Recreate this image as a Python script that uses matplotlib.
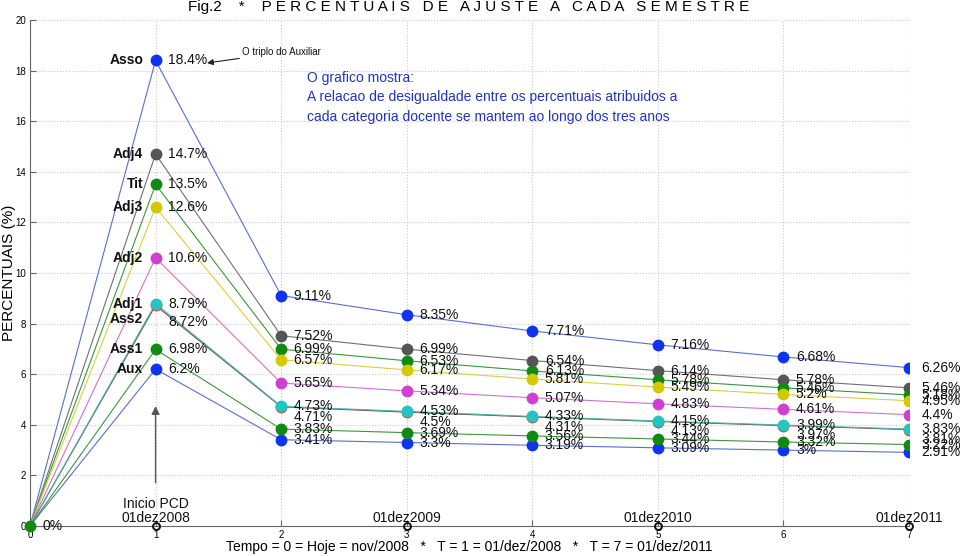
import matplotlib
matplotlib.use("Agg")
import matplotlib.pyplot as plt

plt.rcParams['font.family'] = ['Liberation Sans', 'DejaVu Sans']

times = [0, 1, 2, 3, 4, 5, 6, 7]
names = ["Asso", "Adj4", "Tit", "Adj3", "Adj2", "Ass2", "Adj1", "Aux", "Ass1"]
values = {
    "Asso": [0, 18.4, 9.11, 8.35, 7.71, 7.16, 6.68, 6.26],
    "Adj4": [0, 14.7, 7.52, 6.99, 6.54, 6.14, 5.78, 5.46],
    "Tit":  [0, 13.5, 6.99, 6.53, 6.13, 5.78, 5.46, 5.18],
    "Adj3": [0, 12.6, 6.57, 6.17, 5.81, 5.49, 5.2, 4.95],
    "Adj2": [0, 10.6, 5.65, 5.34, 5.07, 4.83, 4.61, 4.4],
    "Ass2": [0, 8.72, 4.71, 4.5, 4.31, 4.13, 3.97, 3.81],
    "Adj1": [0, 8.79, 4.73, 4.53, 4.33, 4.15, 3.99, 3.83],
    "Aux":  [0, 6.2, 3.41, 3.3, 3.19, 3.09, 3.0, 2.91],
    "Ass1": [0, 6.98, 3.83, 3.69, 3.56, 3.44, 3.32, 3.22],
}
marker_colors = {
    "Asso": "#1033f0", "Adj4": "#555555", "Tit": "#108a10", "Adj3": "#d4c800",
    "Adj2": "#d040d0", "Ass2": "#d04a20", "Adj1": "#22c4c4", "Aux": "#1033f0",
    "Ass1": "#108a10",
}
line_colors = {
    "Asso": "#5a6ed0", "Adj4": "#707070", "Tit": "#3c963c", "Adj3": "#d8d040",
    "Adj2": "#d070d0", "Ass2": "#6a5048", "Adj1": "#50b0b0", "Aux": "#5a6ed0",
    "Ass1": "#3c963c",
}
date_ticks = [1, 3, 5, 7]
date_labels = ["Inicio PCD\n01dez2008", "01dez2009", "01dez2010", "01dez2011"]

fig = plt.figure(figsize=(9.6, 5.56), dpi=100)
ax = fig.add_axes([30/960, 30/556, 879/960, 506/556])
ax.set_xlim(0, 7)
ax.set_ylim(0, 20)

for n in names:
    ax.plot(times, values[n], color=line_colors[n], lw=0.8, zorder=2)
for n in names:
    ax.plot(times[1:], values[n][1:], 'o', color=marker_colors[n], ms=7.5,
            mec=marker_colors[n], zorder=3)

FS = 10
# value labels
for n in names:
    for t, v in zip(times[1:], values[n][1:]):
        dy = 0
        if n == "Ass2":
            dy = -12 if t == 1 else -7
        ax.annotate(f"{v:g}%", (t, v), xytext=(9, dy), textcoords='offset points',
                    ha='left', va='center', fontsize=FS, color='#111111', zorder=4,
                    annotation_clip=False)
    dy = -10 if n == "Ass2" else 0
    ax.annotate(n, (1, values[n][1]), xytext=(-9, dy), textcoords='offset points',
                ha='right', va='center', fontsize=FS, fontweight='bold',
                color='#111111', zorder=4)

# origin point
ax.plot([0], [0], 'o', color=marker_colors["Ass1"], ms=7.5, zorder=5, clip_on=False)
ax.annotate("0%", (0, 0), xytext=(9, 0), textcoords='offset points', ha='left',
            va='center', fontsize=FS, color='#111111')

# date markers
ax.plot(date_ticks, [0]*len(date_ticks), 'o', mfc='none', mec='#111111', ms=5,
        mew=1.4, zorder=5, clip_on=False)
for t, lab in zip(date_ticks, date_labels):
    ax.annotate(lab, (t, 0), xytext=(0, 1), textcoords='offset points', ha='center',
                va='bottom', fontsize=FS, color='#111111', linespacing=1.0)

# arrow at Inicio PCD
ax.annotate("", xy=(1, 4.85), xytext=(1, 1.6),
            arrowprops=dict(arrowstyle='-|>', color='#555555', lw=1.0,
                            mutation_scale=12))
# "O triplo do Auxiliar"
ax.annotate("O triplo do Auxiliar", xy=(1.41, 18.3), xytext=(1.69, 18.72),
            fontsize=7, ha='left', va='center', color='#111111',
            arrowprops=dict(arrowstyle='-|>', color='#222222', lw=0.8,
                            mutation_scale=9, shrinkA=0, shrinkB=0))

ax.text(2.205, 18.0, "O grafico mostra:\nA relacao de desigualdade entre os percentuais atribuidos a\ncada categoria docente se mantem ao longo dos tres anos",
        fontsize=10, color='#2233c0', ha='left', va='top', linespacing=1.5)

ax.set_xticks(range(0, 8))
ax.set_yticks(range(0, 21, 2))
ax.tick_params(direction='in', labelsize=7, length=4, color='#666666', pad=3)
ax.grid(True, linestyle=':', color='#c8c8c8', lw=0.8)
for s in ['top', 'right']:
    ax.spines[s].set_visible(False)
for s in ['left', 'bottom']:
    ax.spines[s].set_color('#666666')
ax.set_axisbelow(True)

ax.set_ylabel("PERCENTUAIS (%)", fontsize=11)
ax.yaxis.set_label_coords(-0.016, 0.5)
ax.set_xlabel("Tempo = 0 = Hoje = nov/2008   *   T = 1 = 01/dez/2008   *   T = 7 = 01/dez/2011",
              fontsize=10, labelpad=0)
fig.text(0.4885, 1 - 7/556, "Fig.2    *    P E R C E N T U A I S   D E   A J U S T E   A   C A D A   S E M E S T R E",
         fontsize=11, ha='center', va='center')

fig.savefig("out.png", dpi=100)
